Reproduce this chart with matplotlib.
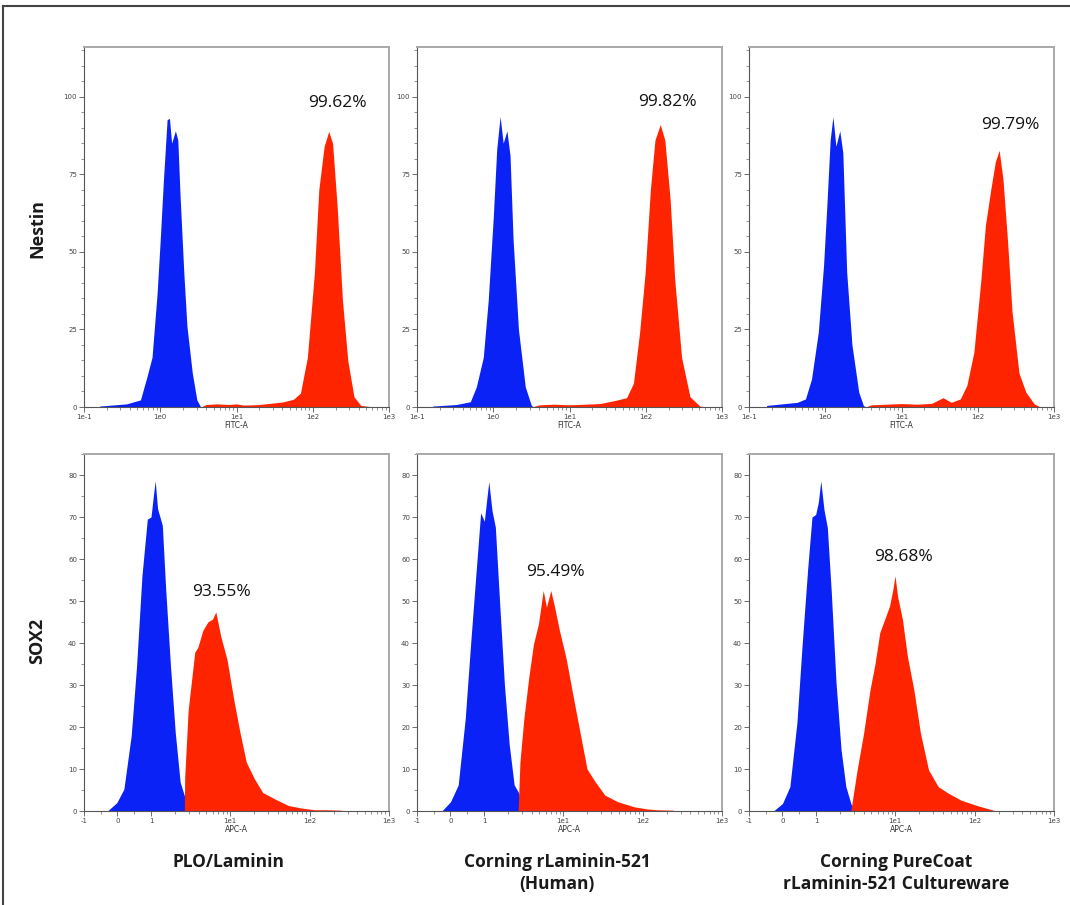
import matplotlib
matplotlib.use("Agg")
import matplotlib.pyplot as plt
from matplotlib.lines import Line2D
from matplotlib.ticker import FixedLocator, MultipleLocator, NullFormatter

# ---- values (x = channel value, y = count) ----
# Nestin, FITC-A
nes_plo_blue_x = [0.16, 0.36, 0.55, 0.67, 0.78, 0.91, 1.0, 1.10, 1.23, 1.32, 1.41, 1.58, 1.70, 1.82, 2.04, 2.24, 2.63, 3.02, 3.39]
nes_plo_blue_y = [0.3, 1.0, 2.3, 9.8, 16, 36.7, 54, 73, 92.6, 93, 85, 89, 86, 68, 43, 26, 11, 2.3, 0]
nes_plo_red_x = [3.4, 4.0, 5.6, 7.9, 10, 12.6, 20, 28, 40, 56, 69, 85, 105, 120, 141, 162, 182, 209, 245, 288, 347, 427, 631]
nes_plo_red_y = [0, 0.8, 1.0, 0.8, 1.0, 0.6, 0.8, 1.2, 1.6, 2.5, 4.5, 16, 43, 70, 84, 88.8, 85, 64.6, 34.5, 15, 3.3, 0.5, 0]

nes_rl_blue_x = [0.16, 0.33, 0.50, 0.60, 0.74, 0.86, 1.0, 1.11, 1.23, 1.35, 1.51, 1.66, 1.82, 2.14, 2.63, 3.16, 3.4]
nes_rl_blue_y = [0.3, 0.8, 1.7, 6.5, 16, 34.5, 61, 83, 93.6, 85, 89, 81, 54, 25, 6.5, 0.5, 0]
nes_rl_red_x = [3.2, 4.0, 6.3, 10, 16, 25, 38, 56, 69, 83, 98, 115, 132, 155, 178, 209, 240, 295, 380, 513, 631]
nes_rl_red_y = [0, 0.7, 0.9, 0.7, 0.9, 1.1, 2.0, 3.0, 7.7, 24, 43, 70, 86, 91, 86, 66.8, 41, 16, 3.3, 0.3, 0]

nes_pc_blue_x = [0.17, 0.43, 0.55, 0.66, 0.81, 0.95, 1.05, 1.16, 1.26, 1.38, 1.55, 1.70, 1.91, 2.24, 2.75, 3.16, 3.4]
nes_pc_blue_y = [0.5, 1.5, 2.6, 9, 24, 45.6, 65, 86, 93.5, 84, 89, 82, 43.5, 20, 4.8, 0.5, 0]
nes_pc_red_x = [3.4, 4.0, 6.3, 10, 16, 25, 35, 45, 59, 72, 89, 110, 126, 148, 170, 191, 214, 245, 282, 347, 427, 550, 660]
nes_pc_red_y = [0, 0.7, 0.9, 1.1, 0.9, 1.2, 3.0, 1.5, 2.6, 7, 17.7, 41, 58.5, 70, 79, 82.7, 73.5, 54, 30.6, 11, 4.8, 1.0, 0]

# SOX2, APC-A
sox_plo_blue_x = [-0.3, -0.02, 0.19, 0.41, 0.57, 0.73, 0.89, 1.0, 1.07, 1.13, 1.21, 1.39, 1.53, 1.76, 2.02, 2.33, 2.63, 3.2]
sox_plo_blue_y = [0, 2, 5.2, 18, 34.6, 56, 69.5, 70, 75, 78.6, 72, 68, 53, 34.6, 18.8, 6.9, 3.7, 0]
sox_plo_red_x = [2.63, 2.66, 2.94, 3.24, 3.56, 3.9, 4.5, 5.2, 5.97, 6.56, 7.55, 9.1, 11, 13.2, 15.9, 20.2, 25.6, 37, 54, 79, 115, 160, 245, 300]
sox_plo_red_y = [0, 8, 24, 31, 37.8, 39, 43, 45, 45.7, 47.4, 41.7, 36, 26.7, 18.8, 11.6, 7.6, 4.4, 2.8, 1.3, 0.7, 0.3, 0.3, 0.2, 0]

sox_rl_blue_x = [-0.26, 0.0, 0.23, 0.44, 0.6, 0.76, 0.9, 1.01, 1.08, 1.15, 1.26, 1.39, 1.57, 1.81, 2.08, 2.4, 2.69, 3.2]
sox_rl_blue_y = [0, 2.2, 6.2, 22, 39.7, 56.5, 71, 69, 74, 78.4, 71.6, 67.6, 50, 30, 15.8, 6.2, 4.6, 0]
sox_rl_red_x = [2.69, 2.84, 3.18, 3.66, 4.2, 4.85, 5.58, 6.13, 6.95, 7.78, 8.95, 10.8, 13.7, 16.5, 19.9, 25.1, 33.3, 48.6, 78, 113, 150, 240, 260]
sox_rl_red_y = [0, 11.7, 22, 31.7, 39.7, 44.5, 52.5, 48.5, 52.5, 48.5, 42.9, 36.5, 26, 18, 10, 7, 3.8, 2.2, 1.0, 0.5, 0.3, 0.2, 0]

sox_pc_blue_x = [-0.27, 0.0, 0.22, 0.43, 0.59, 0.75, 0.88, 0.99, 1.07, 1.15, 1.26, 1.39, 1.56, 1.79, 2.07, 2.38, 2.74, 3.0]
sox_pc_blue_y = [0, 1.8, 5.8, 21, 40, 57.5, 70, 70.6, 73.5, 78.6, 71.8, 67.5, 52, 30.5, 14.6, 5.8, 1.9, 0]
sox_pc_red_x = [2.74, 2.85, 3.3, 3.98, 4.8, 5.54, 6.37, 7.33, 8.45, 9.3, 9.9, 10.7, 12.3, 14.2, 17.1, 20.7, 26.2, 34.7, 46, 67, 107, 171, 190]
sox_pc_red_y = [0, 2, 9.8, 18.5, 28.9, 35, 42.5, 45.6, 48.8, 52.7, 56, 51, 45.6, 36.8, 28.9, 18.6, 9.8, 5.8, 4.3, 2.6, 1.3, 0.2, 0]

percent_labels = ["99.62%", "99.82%", "99.79%", "93.55%", "95.49%", "98.68%"]
row_labels = ["Nestin", "SOX2"]
col_labels = ["PLO/Laminin", "Corning rLaminin-521\n(Human)", "Corning PureCoat\nrLaminin-521 Cultureware"]

fitc_ticks = [0.1, 1, 10, 100, 1000]
fitc_ticklabels = ["1e-1", "1e0", "1e1", "1e2", "1e3"]
apc_ticks = [-1, 0, 1, 10, 100, 1000]
apc_ticklabels = ["-1", "0", "1", "1e1", "1e2", "1e3"]

BLUE = "#0a22f5"
RED = "#ff2400"

panels = [
    (nes_plo_blue_x, nes_plo_blue_y, nes_plo_red_x, nes_plo_red_y),
    (nes_rl_blue_x, nes_rl_blue_y, nes_rl_red_x, nes_rl_red_y),
    (nes_pc_blue_x, nes_pc_blue_y, nes_pc_red_x, nes_pc_red_y),
    (sox_plo_blue_x, sox_plo_blue_y, sox_plo_red_x, sox_plo_red_y),
    (sox_rl_blue_x, sox_rl_blue_y, sox_rl_red_x, sox_rl_red_y),
    (sox_pc_blue_x, sox_pc_blue_y, sox_pc_red_x, sox_pc_red_y),
]

# where the percentages sit, in axes fractions
pct_pos = [(0.83, 0.844), (0.82, 0.847), (0.856, 0.783),
           (0.45, 0.613), (0.453, 0.67), (0.507, 0.711)]

W, H = 1070, 905
fig = plt.figure(figsize=(W / 100, H / 100), dpi=100)

col_left = [84, 417, 749]
row_box = [(47, 407), (454, 811)]  # top, bottom in pixels
ax_w = 305

log_minor = [k * 10.0 ** e for e in range(-1, 3) for k in range(2, 10)]
sym_minor = [-0.5, 0.5] + [k * 10.0 ** e for e in range(0, 3) for k in range(2, 10)]

for i, (bx, by, rx, ry) in enumerate(panels):
    r, c = divmod(i, 3)
    top, bot = row_box[r]
    ax = fig.add_axes([col_left[c] / W, 1 - bot / H, ax_w / W, (bot - top) / H])

    if r == 0:
        ax.set_xscale("log")
        ax.set_xlim(0.1, 1000)
        ax.set_ylim(0, 116)
        ax.set_xticks(fitc_ticks)
        ax.set_xticklabels(fitc_ticklabels)
        ax.xaxis.set_minor_locator(FixedLocator(log_minor))
        ax.set_yticks([0, 25, 50, 75, 100])
        ax.set_xlabel("FITC-A", fontsize=5.5, labelpad=0.5, color="#333")
    else:
        ax.set_xscale("symlog", linthresh=1, linscale=0.38)
        ax.set_xlim(-1, 1000)
        ax.set_ylim(0, 85)
        ax.set_xticks(apc_ticks)
        ax.set_xticklabels(apc_ticklabels)
        ax.xaxis.set_minor_locator(FixedLocator(sym_minor))
        ax.set_yticks([0, 10, 20, 30, 40, 50, 60, 70, 80])
        ax.set_xlabel("APC-A", fontsize=5.5, labelpad=0.5, color="#333")
    ax.xaxis.set_minor_formatter(NullFormatter())
    ax.yaxis.set_minor_locator(MultipleLocator(5))

    ax.fill_between(bx, by, 0, color=BLUE, lw=0)
    ax.fill_between(rx, ry, 0, color=RED, lw=0)

    ax.text(pct_pos[i][0], pct_pos[i][1], percent_labels[i], transform=ax.transAxes,
            ha="center", va="center", fontsize=12.5, family="Open Sans", color="#111")

    ax.tick_params(which="major", direction="out", length=3.5, width=0.6, color="#555",
                   labelsize=5, labelcolor="#444", pad=1.5)
    ax.tick_params(which="minor", direction="out", length=2, width=0.5, color="#666")
    for side in ["top", "right"]:
        ax.spines[side].set_color("#a8a8a8")
        ax.spines[side].set_linewidth(1.4)
    for side in ["left", "bottom"]:
        ax.spines[side].set_color("#555")
        ax.spines[side].set_linewidth(0.8)

label_font = "Open Sans"
fig.text(37 / W, 1 - 228 / H, row_labels[0], rotation=90, ha="center", va="center",
         fontsize=13, fontweight="bold", family=label_font, color="#1a1a1a")
fig.text(37 / W, 1 - 641 / H, row_labels[1], rotation=90, ha="center", va="center",
         fontsize=13, fontweight="bold", family=label_font, color="#1a1a1a")

col_x = [229, 557, 896]
for x, lab in zip(col_x, col_labels):
    fig.text(x / W, 1 - 853 / H, lab, ha="center", va="top", fontsize=12.5,
             fontweight="bold", family=label_font, color="#1a1a1a", linespacing=1.25)

# outer frame (only top and left edges show in the original)
fig.add_artist(Line2D([3 / W, 1], [1 - 6 / H, 1 - 6 / H], color="#444", lw=1.5))
fig.add_artist(Line2D([3 / W, 3 / W], [0, 1 - 6 / H], color="#444", lw=1.5))

fig.savefig("out.png", dpi=100)
